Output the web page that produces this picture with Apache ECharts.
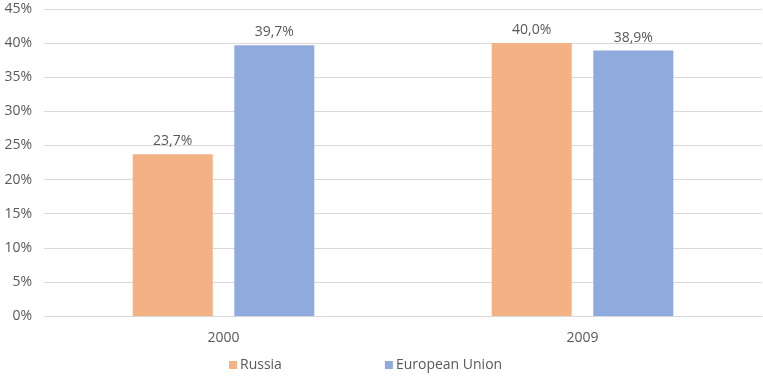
<!DOCTYPE html>
<html>
<head>
<meta charset="utf-8">
<script src="https://cdn.jsdelivr.net/npm/echarts@6/dist/echarts.min.js"></script>
<style>
html,body{margin:0;padding:0;background:#fff;}
#c{width:763px;height:381px;}
</style>
</head>
<body>
<div id="c"></div>
<script>
const categories = ['2000', '2009'];
const russia = [23.7, 40.0];
const eu = [39.7, 38.9];
const yTicks = [0, 5, 10, 15, 20, 25, 30, 35, 40, 45];

const font = '"Open Sans", "Noto Sans", Arial, sans-serif';
const txt = '#595959';
const fmt = v => v.toFixed(1).replace('.', ',') + '%';

const chart = echarts.init(document.getElementById('c'), null, {renderer: 'canvas'});
chart.setOption({
  animation: false,
  textStyle: {fontFamily: font},
  grid: {left: 44, right: 1, top: 9, bottom: 65, containLabel: false},
  legend: {
    bottom: 4,
    left: 224,
    itemWidth: 8,
    itemHeight: 8,
    itemGap: 103,
    icon: 'rect',
    textStyle: {color: txt, fontSize: 14, fontFamily: font, padding: [0, 0, 0, -2]},
    data: ['Russia', 'European Union']
  },
  xAxis: {
    type: 'category',
    data: categories,
    axisLine: {lineStyle: {color: '#d9d9d9', width: 1}},
    axisTick: {show: false},
    axisLabel: {color: txt, fontSize: 14, margin: 15, fontFamily: font}
  },
  yAxis: {
    type: 'value',
    min: yTicks[0],
    max: yTicks[yTicks.length - 1],
    interval: 5,
    axisLine: {show: false},
    axisTick: {show: false},
    splitLine: {lineStyle: {color: '#d9d9d9', width: 1}},
    axisLabel: {color: txt, fontSize: 14, margin: 12, fontFamily: font, formatter: v => v + '%'}
  },
  series: [
    {
      name: 'Russia',
      type: 'bar',
      data: russia,
      barWidth: 80,
      barGap: '27%',
      itemStyle: {color: '#F4B183'},
      label: {show: true, position: 'top', color: txt, fontSize: 14, distance: 6, fontFamily: font, formatter: p => fmt(p.value)}
    },
    {
      name: 'European Union',
      type: 'bar',
      data: eu,
      barWidth: 80,
      itemStyle: {color: '#8FAADC'},
      label: {show: true, position: 'top', color: txt, fontSize: 14, distance: 6, fontFamily: font, formatter: p => fmt(p.value)}
    }
  ]
});
</script>
</body>
</html>
